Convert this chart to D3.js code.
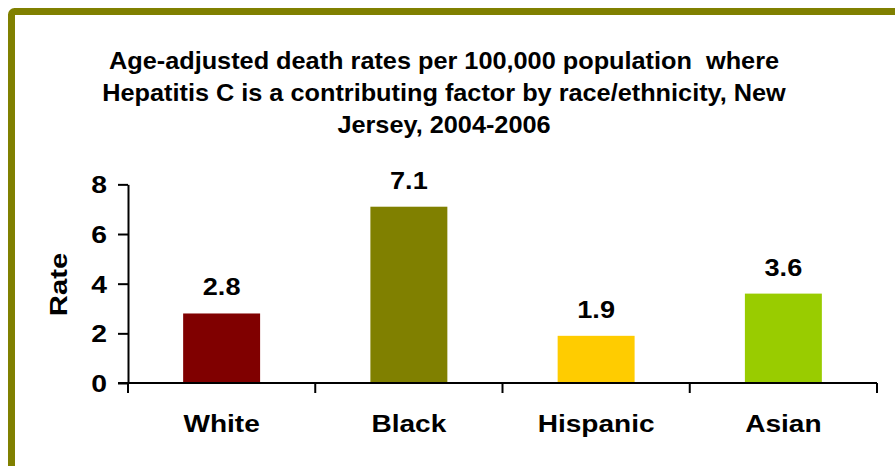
<!DOCTYPE html>
<html>
<head>
<meta charset="utf-8">
<script src="https://cdn.jsdelivr.net/npm/d3@7"></script>
<style>
  html, body { margin: 0; padding: 0; background: #fff; }
  svg { display: block; font-family: "Liberation Sans", Arial, sans-serif; }
  text { white-space: pre; }
</style>
</head>
<body>
<svg id="chart" width="895" height="466"></svg>
<script>
// Hepatitis C contributing-cause death rates by race/ethnicity
const categories = ["White", "Black", "Hispanic", "Asian"];
const rates = [2.8, 7.1, 1.9, 3.6];
const barColors = ["#800000", "#808000", "#FFCC00", "#99CC00"];
const yTicks = [0, 2, 4, 6, 8];
const titleLines = [
  "Age-adjusted death rates per 100,000 population  where",
  "Hepatitis C is a contributing factor by race/ethnicity, New",
  "Jersey, 2004-2006"
];

const svg = d3.select("#chart");

// wide bold lettering: place text at (x, y) and widen it horizontally
function place(sel, px, py, sx) {
  sel.attr("x", 0).attr("y", 0)
    .attr("transform", (d, i) => `translate(${px(d, i)},${py(d, i)}) scale(${sx},1)`);
}

// framed panel
svg.append("rect")
  .attr("x", 11.5).attr("y", 11.5)
  .attr("width", 960).attr("height", 520)
  .attr("rx", 3)
  .attr("fill", "#fff")
  .attr("stroke", "#808000")
  .attr("stroke-width", 7);

const plot = { left: 128, right: 877, bottom: 383 };

const x = d3.scaleBand()
  .domain(categories)
  .range([plot.left, plot.right])
  .paddingInner(0.589)
  .paddingOuter(0.589 / 2);

const y = d3.scaleLinear()
  .domain([0, 8])
  .range([plot.bottom, plot.bottom - 8 * 24.83]);

// title
svg.append("g")
  .selectAll("text")
  .data(titleLines)
  .join("text")
  .attr("text-anchor", "middle")
  .attr("font-size", 23)
  .attr("font-weight", "bold")
  .attr("fill", "#000")
  .text(d => d)
  .call(place, () => 444, (d, i) => 69 + i * 32, 1.1);

// bars
svg.append("g")
  .selectAll("rect")
  .data(rates)
  .join("rect")
  .attr("x", (d, i) => x(categories[i]))
  .attr("y", d => y(d))
  .attr("width", x.bandwidth())
  .attr("height", d => y(0) - y(d))
  .attr("fill", (d, i) => barColors[i]);

// value labels
svg.append("g")
  .selectAll("text")
  .data(rates)
  .join("text")
  .attr("text-anchor", "middle")
  .attr("font-size", 24)
  .attr("font-weight", "bold")
  .attr("fill", "#000")
  .text(d => d.toFixed(1))
  .call(place, (d, i) => x(categories[i]) + x.bandwidth() / 2, d => y(d) - 18, 1.13);

// y axis
const yAxis = svg.append("g")
  .attr("transform", `translate(${plot.left},0)`)
  .call(d3.axisLeft(y).tickValues(yTicks).tickSize(10).tickPadding(12).tickSizeOuter(0));
yAxis.select(".domain").attr("stroke", "#000").attr("stroke-width", 2);
yAxis.selectAll(".tick line").attr("stroke", "#000").attr("stroke-width", 2);
yAxis.selectAll(".tick text")
  .attr("font-family", "Liberation Sans, Arial, sans-serif")
  .attr("font-size", 24)
  .attr("font-weight", "bold")
  .attr("fill", "#000")
  .attr("dy", "0.35em")
  .call(place, () => -21, () => 0, 1.18);

// x axis: baseline with tick marks between categories
const step = x.step();
const xBound = d3.range(categories.length + 1).map(i => plot.left + i * step);
const xAxis = svg.append("g");
xAxis.append("line")
  .attr("x1", plot.left - 10).attr("x2", plot.right)
  .attr("y1", y(0)).attr("y2", y(0))
  .attr("stroke", "#000").attr("stroke-width", 2);
xAxis.selectAll("line.tk")
  .data(xBound)
  .join("line")
  .attr("class", "tk")
  .attr("x1", d => d).attr("x2", d => d)
  .attr("y1", y(0)).attr("y2", y(0) + 10)
  .attr("stroke", "#000").attr("stroke-width", 2);
xAxis.selectAll("text")
  .data(categories)
  .join("text")
  .attr("text-anchor", "middle")
  .attr("font-size", 24)
  .attr("font-weight", "bold")
  .attr("fill", "#000")
  .text(d => d)
  .call(place, d => x(d) + x.bandwidth() / 2, () => y(0) + 49, 1.17);

// y axis title
svg.append("text")
  .attr("text-anchor", "middle")
  .attr("font-size", 23)
  .attr("font-weight", "bold")
  .attr("fill", "#000")
  .attr("transform", "translate(67,284.5) rotate(-90) scale(1.27,1)")
  .text("Rate");
</script>
</body>
</html>
